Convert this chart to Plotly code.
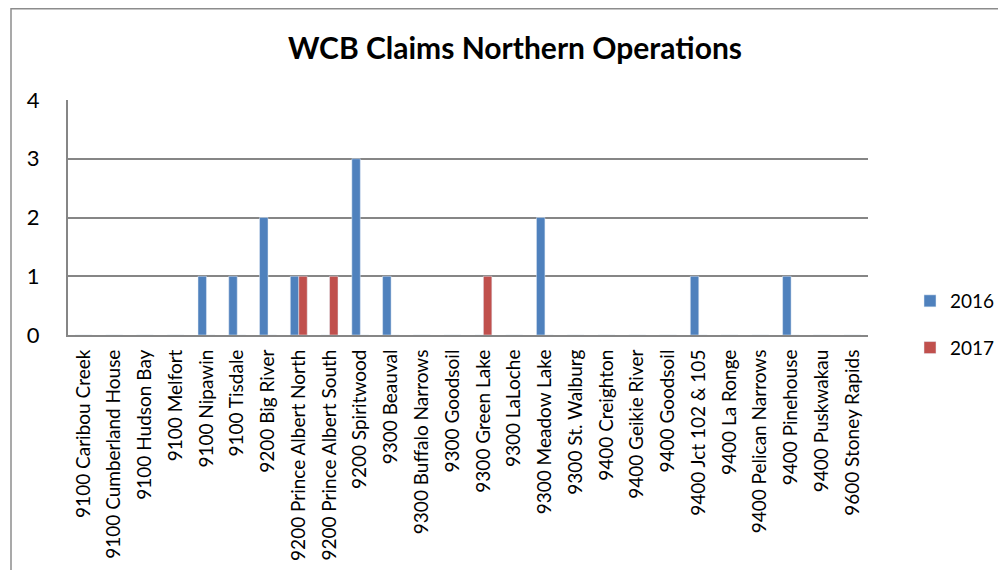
import plotly.graph_objects as go

categories = [
    "9100 Caribou Creek", "9100 Cumberland House", "9100 Hudson Bay", "9100 Melfort",
    "9100 Nipawin", "9100 Tisdale", "9200 Big River", "9200 Prince Albert North",
    "9200 Prince Albert South", "9200 Spiritwood", "9300 Beauval", "9300 Buffalo Narrows",
    "9300 Goodsoil", "9300 Green Lake", "9300 LaLoche", "9300 Meadow Lake",
    "9300 St. Walburg", "9400 Creighton", "9400 Geikie River", "9400 Goodsoil",
    "9400 Jct 102 & 105", "9400 La Ronge", "9400 Pelican Narrows", "9400 Pinehouse",
    "9400 Puskwakau", "9600 Stoney Rapids",
]
values_2016 = [0, 0, 0, 0, 1, 1, 2, 1, 0, 3, 1, 0, 0, 0, 0, 2, 0, 0, 0, 0, 1, 0, 0, 1, 0, 0]
values_2017 = [0, 0, 0, 0, 0, 0, 0, 1, 1, 0, 0, 0, 0, 1, 0, 0, 0, 0, 0, 0, 0, 0, 0, 0, 0, 0]
y_ticks = [0, 1, 2, 3, 4]

FONT = "Lato, Carlito, Calibri, sans-serif"

fig = go.Figure()
fig.add_trace(go.Bar(name="2016", x=categories, y=values_2016, marker_color="#4F81BD",
                     legendgroup="a"))
fig.add_trace(go.Bar(name="2017", x=categories, y=values_2017, marker_color="#C0504D",
                     legendgroup="b"))

# page has an 8px body margin: work in figure coordinates = page - 8
OFF = 8
W, H = 990, 562
L, R, T, B = 68 - OFF, 868 - OFF, 100 - OFF, 335 - OFF
pw, ph = R - L, B - T

def px_x(x):
    return (x - OFF - L) / pw

def px_y(y):
    return (B - (y - OFF)) / ph

fig.update_layout(
    width=W, height=H,
    margin=dict(l=L, r=W - R, t=T, b=H - B, pad=0, autoexpand=False),
    paper_bgcolor="white", plot_bgcolor="white",
    barmode="group", bargap=0.45, bargroupgap=0,
    title=dict(text="<b>WCB Claims Northern Operations</b>", x=(515 - OFF) / W, xanchor="center",
               y=1 - (48 - OFF) / H, yanchor="middle",
               font=dict(family=FONT, size=30, color="black")),
    font=dict(family=FONT, color="black"),
    legend=dict(x=px_x(910), y=px_y(282), xanchor="left", yanchor="top",
                font=dict(family=FONT, size=19, color="black"),
                traceorder="grouped", tracegroupgap=19, itemwidth=30,
                bgcolor="rgba(0,0,0,0)", borderwidth=0),
    xaxis=dict(tickangle=-90, tickfont=dict(family=FONT, size=19, color="black"),
               showline=True, linecolor="#868686", linewidth=2, showgrid=False,
               ticks="", ticklabelstandoff=5),
    yaxis=dict(range=[0, 4], tickvals=y_ticks, tickfont=dict(family=FONT, size=22, color="black"),
               showline=True, linecolor="#868686", linewidth=2,
               showgrid=True, gridcolor="#868686", gridwidth=1.5,
               zeroline=False, ticks="", ticklabelstandoff=22),
    shapes=[
        dict(type="line", xref="paper", yref="paper", x0=px_x(11), x1=px_x(1006),
             y0=px_y(8.8), y1=px_y(8.8), line=dict(color="#8c8c8c", width=1.5)),
        dict(type="line", xref="paper", yref="paper", x0=px_x(11), x1=px_x(11),
             y0=px_y(8), y1=px_y(578), line=dict(color="#8c8c8c", width=1.5)),
    ],
)

fig.write_html("out.html")
